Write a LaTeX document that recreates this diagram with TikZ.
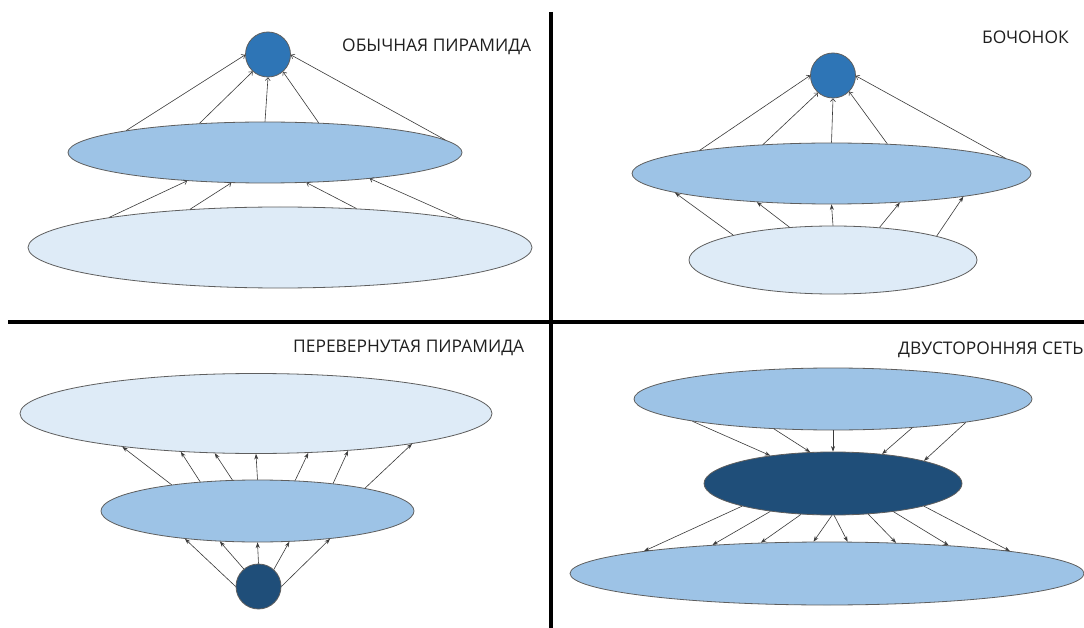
\documentclass[tikz,border=0pt]{standalone}
\usepackage{fontspec}
\setmainfont{Open Sans}
\usetikzlibrary{shapes.geometric,arrows.meta}
\definecolor{cdark}{HTML}{2E75B6}
\definecolor{cnavy}{HTML}{1F4E79}
\definecolor{cmid}{HTML}{9DC3E6}
\definecolor{clight}{HTML}{DEEBF7}
\definecolor{cedge}{HTML}{5E5E5E}
\definecolor{carrow}{HTML}{3A3A3A}
\tikzset{
  ell/.style={ellipse, draw=cedge, line width=0.8pt, inner sep=0pt},
  blob/.style={circle, draw=cedge, line width=0.8pt, inner sep=0pt, minimum size=45pt},
  openarr/.style={draw=carrow, line width=0.6pt, -{To[length=3.5pt,width=5.5pt]}},
  fillarr/.style={draw=carrow, line width=0.6pt, -{Stealth[length=5.5pt,width=4pt]}},
  label/.style={anchor=west, inner sep=0pt, text=black!88, font=\fontsize{17.4}{20}\selectfont},
  divider/.style={line width=3.5pt, black}
}
\begin{document}
\begin{tikzpicture}[x=1pt,y=-1pt]
\useasboundingbox (0,0) rectangle (1084,628);
\fill[white] (0,0) rectangle (1084,628);
% dividers
\coordinate (vtop) at (551,12);
\coordinate (vbot) at (551,628);
\coordinate (hl) at (8,322);
\coordinate (hr) at (1084,322);
\draw[divider] (vtop) -- (vbot);
\draw[divider] (hl) -- (hr);

% ---------- top-left: regular pyramid
\node[ell, fill=clight, minimum width=504pt, minimum height=81pt] (b1) at (280,247.5) {};
\node[ell, fill=cmid, minimum width=394pt, minimum height=61pt] (m1) at (265,152.5) {};
\node[blob, fill=cdark] (c1) at (268,54.5) {};
\node[label] (t1) at (342,47) {ОБЫЧНАЯ ПИРАМИДА};
\foreach \s/\e in {171/181, 156.9/228, 90/270, 29/311, 4.6/359}
  \draw[openarr] (m1.\s) -- (c1.\e);
\foreach \s/\e in {170.5/200, 157.7/222, 27.5/324.4, 9.6/346.8}
  \draw[openarr] (b1.\s) -- (m1.\e);

% ---------- top-right: barrel
\node[ell, fill=clight, minimum width=288pt, minimum height=68pt] (b2) at (833,260) {};
\node[ell, fill=cmid, minimum width=399pt, minimum height=61pt] (m2) at (831.5,173.5) {};
\node[blob, fill=cdark] (c2) at (833,75.5) {};
\node[label] (t2) at (982,37) {БОЧОНОК};
\foreach \s/\e in {170.5/180, 157.6/229.4, 90/270, 28.8/315.8, 5.1/359}
  \draw[openarr] (m2.\s) -- (c2.\e);
\foreach \s/\e in {166.2/187.5, 143.7/201.3, 90/270, 35.7/337.5, 13.9/350.9}
  \draw[fillarr] (b2.\s) -- (m2.\e);

% ---------- bottom-left: inverted pyramid
\node[ell, fill=clight, minimum width=472pt, minimum height=80pt] (b3) at (256,413.5) {};
\node[ell, fill=cmid, minimum width=313pt, minimum height=62pt] (m3) at (257.5,511) {};
\node[blob, fill=cnavy] (c3) at (258.5,586.5) {};
\node[label] (t3) at (293,348) {ПЕРЕВЕРНУТАЯ ПИРАМИДА};
\foreach \s/\e in {163.2/194.4, 153.2/207.4, 129.6/224.7, 90/270, 39.7/323.1, 20.6/338.3, 12.1/349.2}
  \draw[fillarr] (m3.\s) -- (b3.\e);
\foreach \s/\e in {180/201.5, 130/219.2, 90/270, 48.3/316.9, 0/339.3}
  \draw[fillarr] (c3.\s) -- (m3.\e);

% ---------- bottom-right: two-sided network
\node[ell, fill=cmid, minimum width=398pt, minimum height=62pt] (t4) at (833,399) {};
\node[ell, fill=cnavy, minimum width=258pt, minimum height=63pt] (d4) at (833,483.5) {};
\node[ell, fill=cmid, minimum width=514pt, minimum height=63pt] (l4) at (827,573.5) {};
\node[label] (t4l) at (898,350) {ДВУСТОРОННЯЯ СЕТЬ};
\foreach \s/\e in {189.3/156.6, 207.7/126.4, 270/90, 340.2/31, 350.3/14}
  \draw[fillarr] (t4.\s) -- (d4.\e);
\foreach \s/\e in {194.5/173.3, 204.1/166.9, 224.6/155.5, 268/113.3, 272/57.1, 319.3/24.5, 335.6/13.9, 346/7.5}
  \draw[fillarr] (d4.\s) -- (l4.\e);
\end{tikzpicture}
\end{document}
